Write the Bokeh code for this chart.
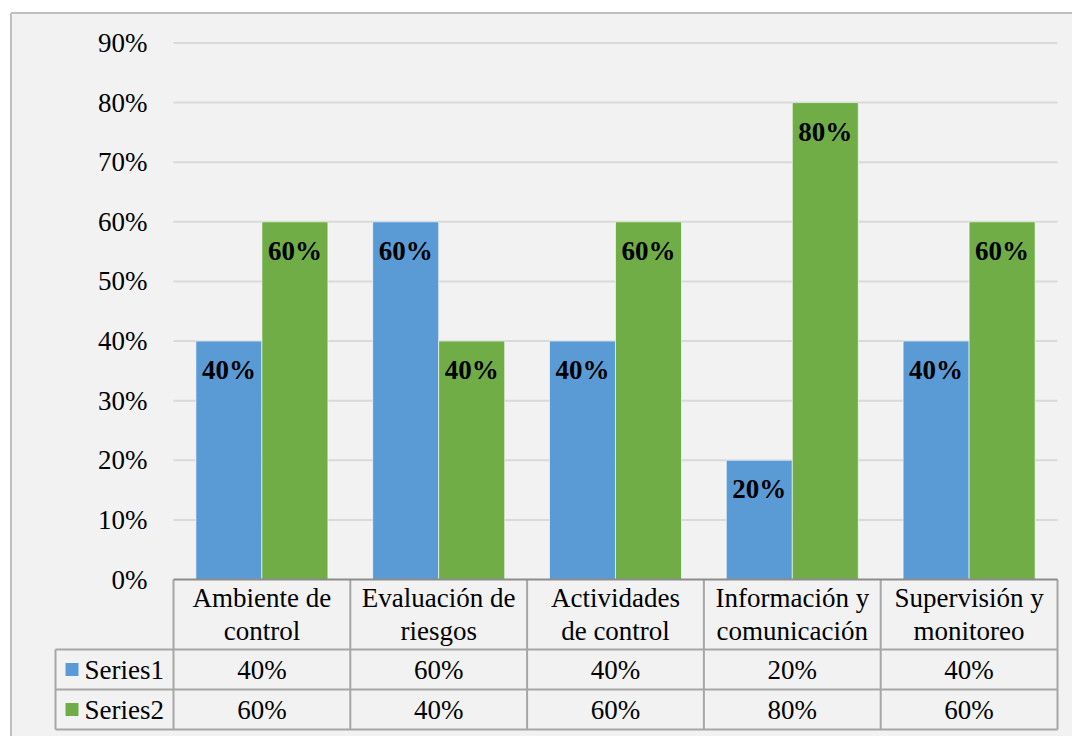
from bokeh.plotting import figure
from bokeh.models import Range1d, FixedTicker
from bokeh.embed import file_html
from bokeh.resources import INLINE
from bokeh.core.properties import value

# ---------------- data ----------------
categories = ["Ambiente de\ncontrol", "Evaluación de\nriesgos", "Actividades\nde control",
              "Información y\ncomunicación", "Supervisión y\nmonitoreo"]
series_names = ["Series1", "Series2"]
series1 = [0.40, 0.60, 0.40, 0.20, 0.40]
series2 = [0.60, 0.40, 0.60, 0.80, 0.60]
y_ticks = [0, 0.1, 0.2, 0.3, 0.4, 0.5, 0.6, 0.7, 0.8, 0.9]
y_tick_labels = ["0%", "10%", "20%", "30%", "40%", "50%", "60%", "70%", "80%", "90%"]
colors = ["#5B9BD5", "#70AD47"]

# ---------------- layout (pixels) ----------------
W, H = 1072, 736
FRAME_L, FRAME_T = 9, 11
BORDER_X, BORDER_Y = 10.5, 12.5
PLOT_L, PLOT_R = 173, 1057
Y0_PX, YMAX_PX = 579.0, 42.5
TABLE_L = 55
ROWS_PX = [579, 649, 689, 729]
FONT = "Liberation Serif"
FS = "27px"

n = len(categories)
ux = n / (PLOT_R - PLOT_L)
uy = y_ticks[-1] / (Y0_PX - YMAX_PX)
x_start = -(PLOT_L - FRAME_L) * ux
x_end = n + (W - PLOT_R) * ux
y_end = y_ticks[-1] + (YMAX_PX - FRAME_T) * uy
y_start = -(H - Y0_PX) * uy


def ypx(py):
    return -(py - Y0_PX) * uy


def xpx(px):
    return (px - PLOT_L) * ux


p = figure(width=W, height=H, x_range=Range1d(x_start, x_end), y_range=Range1d(y_start, y_end),
           output_backend="svg", toolbar_location=None,
           min_border_left=FRAME_L, min_border_top=FRAME_T, min_border_right=0, min_border_bottom=0,
           background_fill_color="white", border_fill_color="white", outline_line_color=None)
p.xaxis.visible = False
p.grid.visible = False

# chart area background + left/top border
p.quad(left=[xpx(BORDER_X)], right=[x_end], bottom=[y_start], top=[ypx(BORDER_Y)],
       fill_color="#F2F2F2", line_color=None)
p.segment(x0=[xpx(BORDER_X), xpx(BORDER_X)], x1=[xpx(BORDER_X), x_end],
          y0=[y_start, ypx(BORDER_Y)], y1=[ypx(BORDER_Y), ypx(BORDER_Y)],
          line_color="#BFBFBF", line_width=2)

ax = p.yaxis[0]
ax.ticker = FixedTicker(ticks=y_ticks)
ax.major_label_overrides = dict(zip(y_ticks, y_tick_labels))
ax.axis_line_color = None
ax.major_tick_line_color = None
ax.minor_tick_line_color = None
ax.major_tick_out = 0
ax.major_tick_in = 0
ax.major_label_standoff = -(147 - FRAME_L)
ax.major_label_text_font = FONT
ax.major_label_text_font_size = FS
ax.major_label_text_color = "black"

# gridlines
p.segment(x0=[0] * (len(y_ticks) - 1), x1=[n] * (len(y_ticks) - 1), y0=y_ticks[1:], y1=y_ticks[1:],
          line_color="#D9D9D9", line_width=2)

# bars
bw = 66 * ux
off = 33 * ux
xs1 = [i + 0.5 - off for i in range(n)]
xs2 = [i + 0.5 + off for i in range(n)]
for xs, vals, c in [(xs1, series1, colors[0]), (xs2, series2, colors[1])]:
    p.vbar(x=xs, top=vals, bottom=0, width=bw, fill_color=c, line_color="white", line_alpha=0.6, line_width=1)
    p.text(x=xs, y=vals, text=[f"{round(v * 100)}%" for v in vals], y_offset=29,
           text_align="center", text_baseline="middle", text_font=value(FONT),
           text_font_size=FS, text_font_style="bold", text_color="black")

# data table lines
tc = "#A6A6A6"
p.segment(x0=[xpx(TABLE_L)] * 3, x1=[n] * 3, y0=[ypx(r) for r in ROWS_PX[1:]], y1=[ypx(r) for r in ROWS_PX[1:]],
          line_color=tc, line_width=2)
p.segment(x0=list(range(n + 1)), x1=list(range(n + 1)), y0=[ypx(ROWS_PX[0])] * (n + 1),
          y1=[ypx(ROWS_PX[-1])] * (n + 1), line_color=tc, line_width=2)
p.segment(x0=[xpx(TABLE_L)], x1=[xpx(TABLE_L)], y0=[ypx(ROWS_PX[1])], y1=[ypx(ROWS_PX[-1])],
          line_color=tc, line_width=2)
p.segment(x0=[0], x1=[n], y0=[0], y1=[0], line_color="#8C8C8C", line_width=2)

# header
p.text(x=[i + 0.5 for i in range(n)], y=[ypx((ROWS_PX[0] + ROWS_PX[1]) / 2)] * n, text=categories,
       text_align="center", text_baseline="middle", text_font=value(FONT), text_font_size=FS,
       text_line_height=1.12, text_color="black")

# value rows
for r, (name, vals, c) in enumerate([(series_names[0], series1, colors[0]), (series_names[1], series2, colors[1])]):
    yc = ypx((ROWS_PX[r + 1] + ROWS_PX[r + 2]) / 2)
    p.text(x=[i + 0.5 for i in range(n)], y=[yc] * n, text=[f"{round(v * 100)}%" for v in vals],
           text_align="center", text_baseline="middle", text_font=value(FONT), text_font_size=FS,
           text_color="black")
    p.scatter(x=[xpx(71.5)], y=[yc], marker="square", size=13, fill_color=c, line_color=None)
    p.text(x=[xpx(84)], y=[yc], text=[name], text_align="left", text_baseline="middle",
           text_font=value(FONT), text_font_size=FS, text_color="black")

open("out.html", "w").write(file_html(p, INLINE))
